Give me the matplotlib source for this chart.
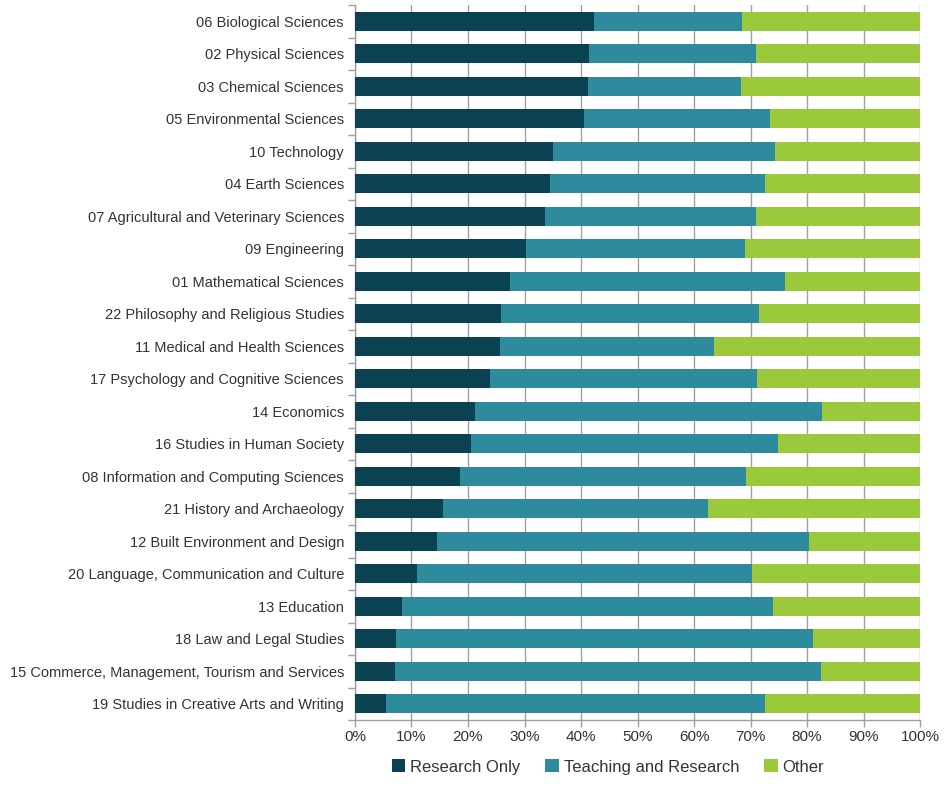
import numpy as np
import matplotlib.pyplot as plt
from matplotlib.ticker import FixedLocator, PercentFormatter

plt.rcParams['font.family'] = ['Liberation Sans', 'DejaVu Sans']

# ==========================================
# データ (図から読み取った値, %)
# ==========================================
fields = [
    '06 Biological Sciences',
    '02 Physical Sciences',
    '03 Chemical Sciences',
    '05 Environmental Sciences',
    '10 Technology',
    '04 Earth Sciences',
    '07 Agricultural and Veterinary Sciences',
    '09 Engineering',
    '01 Mathematical Sciences',
    '22 Philosophy and Religious Studies',
    '11 Medical and Health Sciences',
    '17 Psychology and Cognitive Sciences',
    '14 Economics',
    '16 Studies in Human Society',
    '08 Information and Computing Sciences',
    '21 History and Archaeology',
    '12 Built Environment and Design',
    '20 Language, Communication and Culture',
    '13 Education',
    '18 Law and Legal Studies',
    '15 Commerce, Management, Tourism and Services',
    '19 Studies in Creative Arts and Writing',
]
research_only = [42.3, 41.4, 41.2, 40.5, 35.1, 34.6, 33.7, 30.2, 27.4, 25.8, 25.7,
                 23.9, 21.3, 20.5, 18.5, 15.6, 14.5, 11.0, 8.4, 7.2, 7.1, 5.5]
teaching_research = [26.2, 29.5, 27.1, 32.9, 39.3, 37.9, 37.2, 38.9, 48.7, 45.7, 37.8,
                     47.2, 61.3, 54.3, 50.7, 46.9, 65.8, 59.2, 65.6, 73.8, 75.3, 67.0]
other = [100 - a - b for a, b in zip(research_only, teaching_research)]

series_names = ['Research Only', 'Teaching and Research', 'Other']
colors = ['#0b4252', '#2e8a9d', '#9ac93c']

# ==========================================
# 描画
# ==========================================
fig = plt.figure(figsize=(9.45, 7.97), dpi=100)
ax = fig.add_axes([355 / 945, 1 - 720 / 797, 565 / 945, 715 / 797])

y = np.arange(len(fields))
left = np.zeros(len(fields))
for vals, name, c in zip([research_only, teaching_research, other], series_names, colors):
    ax.barh(y, vals, left=left, height=0.59, color=c, label=name, zorder=3)
    left += np.array(vals)

ax.set_xlim(0, 100)
ax.set_ylim(len(fields) - 0.5, -0.5)
ax.set_xticks(np.arange(0, 101, 10))
ax.xaxis.set_major_formatter(PercentFormatter(decimals=0))
ax.set_yticks(y)
ax.set_yticklabels(fields)
ax.yaxis.set_minor_locator(FixedLocator(np.arange(-0.5, len(fields), 1)))

grid_c = '#a0a0a0'
ax.grid(axis='x', color=grid_c, lw=1, zorder=0)
for s in ['top', 'right']:
    ax.spines[s].set_visible(False)
for s in ['left', 'bottom']:
    ax.spines[s].set_color(grid_c)
    ax.spines[s].set_linewidth(1)

ax.tick_params(axis='y', which='major', length=0, pad=8, labelsize=10.5, labelcolor='#333333')
ax.tick_params(axis='y', which='minor', length=5, color=grid_c, width=1)
ax.tick_params(axis='x', length=5, color=grid_c, width=1, labelsize=11, labelcolor='#333333', pad=2)

fig.legend(loc='center', bbox_to_anchor=(608 / 945, 1 - 767 / 797), ncol=3, frameon=False,
           fontsize=12, handlelength=0.8, handleheight=0.8, handletextpad=0.3,
           columnspacing=1.5, labelcolor='#333333')

plt.savefig('out.png', dpi=100)
